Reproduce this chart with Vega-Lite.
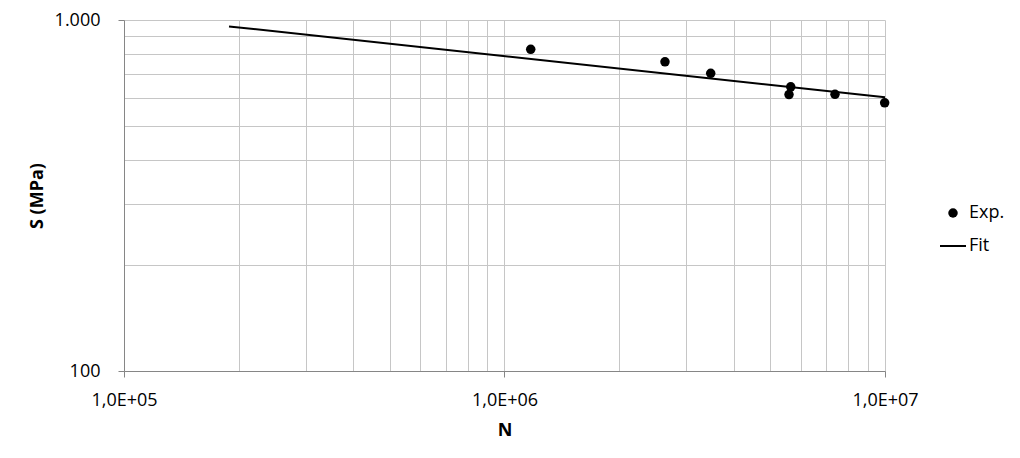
{
  "$schema": "https://vega.github.io/schema/vega-lite/v6.json",
  "width": 761,
  "height": 351,
  "autosize": {"type": "none"},
  "padding": {"left": 124, "top": 20, "right": 135, "bottom": 87},
  "background": "white",
  "config": {"view": {"stroke": null}, "font": "Open Sans"},
  "datasets": {
    "exp": [
      {"N": 1172000, "S": 825, "series": "Exp."},
      {"N": 2641000, "S": 760, "series": "Exp."},
      {"N": 3483000, "S": 705, "series": "Exp."},
      {"N": 5653000, "S": 645, "series": "Exp."},
      {"N": 5594000, "S": 613, "series": "Exp."},
      {"N": 7389000, "S": 614, "series": "Exp."},
      {"N": 9980000, "S": 581, "series": "Exp."}
    ],
    "fit": [
      {"N": 188800, "S": 959, "series": "Fit"},
      {"N": 10000000, "S": 602, "series": "Fit"}
    ]
  },
  "encoding": {
    "x": {
      "field": "N",
      "type": "quantitative",
      "scale": {"type": "log", "domain": [100000, 10000000], "nice": false},
      "axis": {
        "title": "N",
        "values": [100000, 200000, 300000, 400000, 500000, 600000, 700000, 800000, 900000, 1000000, 2000000, 3000000, 4000000, 5000000, 6000000, 7000000, 8000000, 9000000, 10000000],
        "grid": true,
        "gridColor": "#c6c6c6",
        "domainColor": "#868686",
        "tickColor": "#868686",
        "tickSize": 6,
        "tickOpacity": {"condition": {"test": "datum.value==100000||datum.value==1000000||datum.value==10000000", "value": 1}, "value": 0},
        "labelExpr": "datum.value==100000?'1,0E+05':datum.value==1000000?'1,0E+06':datum.value==10000000?'1,0E+07':''",
        "labelFontSize": 18,
        "labelColor": "#000000",
        "labelPadding": 14,
        "labelFlush": false,
        "labelOverlap": false,
        "titleFontSize": 18,
        "titleFontWeight": "bold",
        "titleColor": "#000000",
        "titlePadding": 12
      }
    },
    "y": {
      "field": "S",
      "type": "quantitative",
      "scale": {"type": "log", "domain": [100, 1000], "nice": false},
      "axis": {
        "title": "S (MPa)",
        "values": [100, 200, 300, 400, 500, 600, 700, 800, 900, 1000],
        "grid": true,
        "gridColor": "#c6c6c6",
        "domainColor": "#868686",
        "tickColor": "#868686",
        "tickSize": 6,
        "tickOpacity": {"condition": {"test": "datum.value==100||datum.value==1000", "value": 1}, "value": 0},
        "labelExpr": "datum.value==1000?'1.000':datum.value==100?'100':''",
        "labelFontSize": 18,
        "labelColor": "#000000",
        "labelPadding": 18,
        "labelFlush": false,
        "labelOverlap": false,
        "titleFontSize": 18,
        "titleFontWeight": "bold",
        "titleColor": "#000000",
        "titlePadding": 8
      }
    },
    "color": {
      "field": "series",
      "type": "nominal",
      "scale": {"domain": ["Exp.", "Fit"], "range": ["#000000", "#000000"]},
      "legend": {
        "orient": "none",
        "legendX": 820,
        "legendY": 184,
        "title": null,
        "padding": 0,
        "labelFontSize": 18,
        "labelColor": "#000000",
        "labelOffset": 7,
        "rowPadding": 15,
        "encode": {
          "symbols": {
            "update": {
              "shape": {"signal": "datum.value==='Fit'?'stroke':'circle'"},
              "size": {"signal": "datum.value==='Fit'?676:90"},
              "strokeWidth": {"signal": "datum.value==='Fit'?2:0"},
              "fill": {"value": "#000000"},
              "stroke": {"value": "#000000"},
              "opacity": {"value": 1}
            }
          }
        }
      }
    }
  },
  "layer": [
    {
      "data": {"name": "fit"},
      "mark": {"type": "line", "strokeWidth": 2}
    },
    {
      "data": {"name": "exp"},
      "mark": {"type": "point", "filled": true, "size": 90, "opacity": 1, "shape": "circle"}
    }
  ]
}
